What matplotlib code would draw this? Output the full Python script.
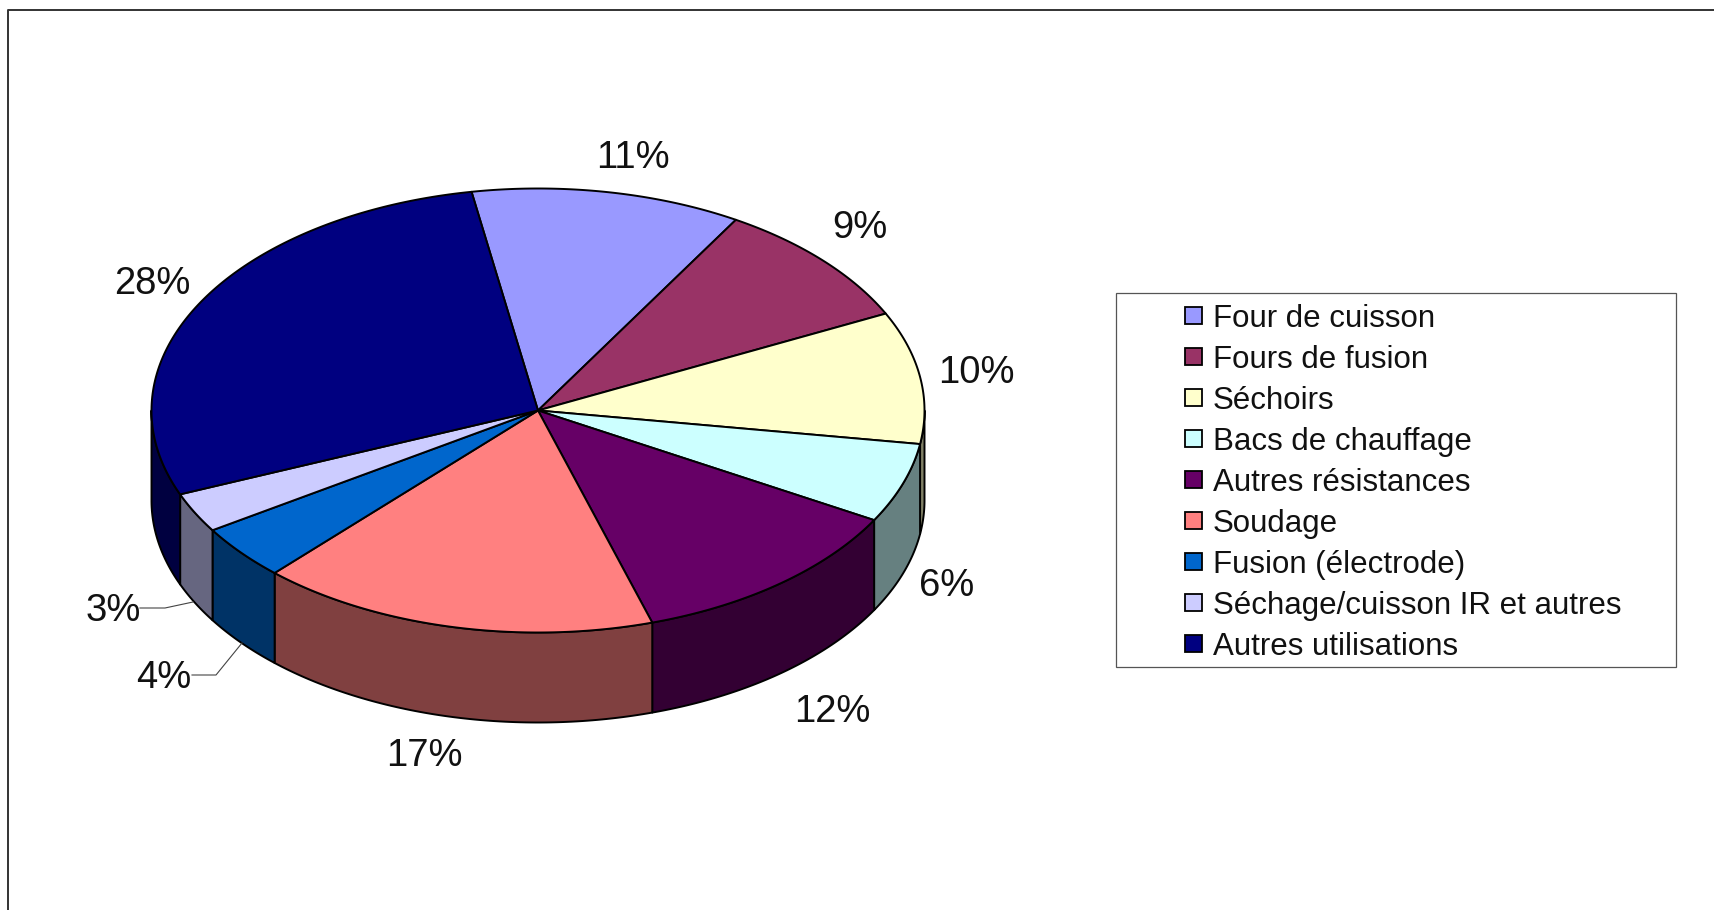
import numpy as np
import matplotlib
matplotlib.use('Agg')
import matplotlib.pyplot as plt
from matplotlib.colors import to_rgb
from matplotlib.patches import Polygon, Rectangle

plt.rcParams['font.family'] = ['Liberation Sans', 'DejaVu Sans']

# Data, clockwise from the start angle (shares, labels round them)
categories = ['Four de cuisson', 'Fours de fusion', 'Séchoirs', 'Bacs de chauffage', 'Autres résistances',
              'Soudage', 'Fusion (électrode)', 'Séchage/cuisson IR et autres', 'Autres utilisations']
shares = [11.3, 9.25, 9.6, 5.8, 12.0, 16.7, 4.0, 2.9, 28.4]
colors = ['#9999FF', '#993366', '#FFFFCC', '#CCFFFF', '#660066', '#FF8080', '#0066CC', '#CCCCFF', '#000080']

# Pie geometry in pixels
cx, cy = 538, 410.5
rx, ry = 386.5, 222
depth = 90
start = -9.9

# Label centres in pixels
label_pos = [(633, 158), (860, 228), (976, 373), (947, 586), (832, 712),
             (424, 756), (164, 678), (113, 611), (152, 284)]


def rim(t):
    t = np.radians(t)
    return cx + rx * np.sin(t), cy - ry * np.cos(t)


fig = plt.figure(figsize=(17.15, 9.1), dpi=100)
ax = fig.add_axes([0, 0, 1, 1])
ax.set_xlim(0, 1715)
ax.set_ylim(910, 0)
ax.axis('off')

# Chart frame, only left and top are inside the picture
ax.plot([8.5, 8.5, 1715], [910, 9.5, 9.5], color='#333333', lw=1.4)

edges = start + np.cumsum([0] + shares) * 360 / sum(shares)

# Side walls first, only the front half can be seen
for i in range(len(shares)):
    t0 = max(edges[i], 90)
    t1 = min(edges[i + 1], 270)
    if t1 <= t0:
        continue
    ts = np.linspace(t0, t1, 80)
    x, y = rim(ts)
    pts = np.r_[np.c_[x, y], np.c_[x[::-1], y[::-1] + depth]]
    side = tuple(c * 0.5 for c in to_rgb(colors[i]))
    ax.add_patch(Polygon(pts, closed=True, facecolor=side, edgecolor='black', lw=1.4, joinstyle='round'))

# Top of the pie
for i in range(len(shares)):
    ts = np.linspace(edges[i], edges[i + 1], 120)
    x, y = rim(ts)
    pts = np.r_[[[cx, cy]], np.c_[x, y]]
    ax.add_patch(Polygon(pts, closed=True, facecolor=colors[i], edgecolor='black', lw=1.4, joinstyle='round'))

# Percent labels
for share, (lx, ly) in zip(shares, label_pos):
    ax.text(lx, ly, f'{round(share)}%', fontsize=27.5, ha='center', va='center', color='#111111')

# Leader lines of the two small slices
ax.plot([140, 165, 193], [608, 608, 602], color='#444444', lw=0.8)
ax.plot([192, 216, 242], [675, 675, 643], color='#444444', lw=0.8)

# Legend
ax.add_patch(Rectangle((1116, 292.5), 560, 374.5, facecolor='white', edgecolor='#555555', lw=0.9))
for i, name in enumerate(categories):
    row_y = 315.5 + 41 * i
    ax.add_patch(Rectangle((1185, row_y - 8.5), 17, 17, facecolor=colors[i], edgecolor='black', lw=1.3))
    ax.text(1213, row_y, name, fontsize=22.5, ha='left', va='center_baseline', color='#111111')

fig.savefig('out.png', dpi=100)
